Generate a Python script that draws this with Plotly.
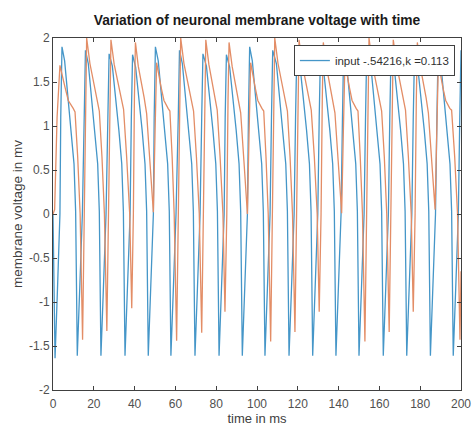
import plotly.graph_objects as go

# time (ms) and membrane voltage (mV)
blue_t = [0.0, 1.0, 2.2, 3.4, 3.8, 4.4, 5.7, 7.3, 8.9, 10.3, 11.1,
          11.9, 13.1, 14.4, 15.3, 15.9, 17.3, 18.9, 20.5, 21.9, 22.7,
          23.5, 24.7, 26.0, 26.9, 27.5, 29.1, 30.7, 32.3, 33.7, 34.5,
          35.3, 36.5, 37.8, 38.4, 39.0, 40.5, 42.1, 43.7, 45.1, 45.9,
          46.7, 47.9, 49.2, 49.6, 50.2, 51.6, 53.2, 54.8, 56.2, 57.0,
          57.8, 59.0, 60.3, 61.4, 62.0, 63.4, 65.0, 66.6, 68.0, 68.8,
          69.6, 70.8, 72.1, 72.9, 73.5, 75.2, 76.8, 78.4, 79.8, 80.6,
          81.4, 82.6, 83.9, 84.4, 85.0, 86.6, 88.2, 89.8, 91.2, 92.0,
          92.8, 94.0, 95.3, 95.8, 96.4, 97.7, 99.3, 100.9, 102.3, 103.1,
          103.9, 105.1, 106.4, 107.1, 107.7, 109.5, 111.1, 112.7, 114.1, 114.9,
          115.7, 116.9, 118.2, 118.9, 119.5, 121.1, 122.7, 124.3, 125.7, 126.5,
          127.3, 128.5, 129.8, 130.5, 131.1, 132.5, 134.1, 135.7, 137.1, 137.9,
          138.7, 139.9, 141.2, 141.9, 142.5, 143.8, 145.4, 147.0, 148.4, 149.2,
          150.0, 151.2, 152.5, 153.2, 153.8, 155.7, 157.3, 158.9, 160.3, 161.1,
          161.9, 163.1, 164.4, 165.1, 165.7, 167.2, 168.8, 170.4, 171.8, 172.6,
          173.4, 174.6, 175.9, 176.6, 177.2, 178.8, 180.4, 182.0, 183.4, 184.2,
          185.0, 186.2, 187.5, 188.2, 188.8, 190.0, 191.6, 193.2, 194.6, 195.4,
          196.2, 197.4, 198.7, 199.4, 200.0]
blue_v = [0.0, -1.64, -0.85, 0.0, 1.1, 1.90, 1.74, 1.33, 0.95, 0.57, 0.03,
          -1.61, -0.85, 0.0, 1.1, 1.86, 1.71, 1.33, 0.95, 0.57, 0.03,
          -1.61, -0.85, 0.0, 1.1, 1.82, 1.68, 1.33, 0.95, 0.57, 0.03,
          -1.61, -0.85, 0.0, 1.1, 1.81, 1.67, 1.33, 0.95, 0.57, 0.03,
          -1.61, -0.85, 0.0, 1.1, 1.90, 1.74, 1.33, 0.95, 0.57, 0.03,
          -1.61, -0.85, 0.0, 1.1, 1.86, 1.71, 1.33, 0.95, 0.57, 0.03,
          -1.61, -0.85, 0.0, 1.1, 1.82, 1.68, 1.33, 0.95, 0.57, 0.03,
          -1.61, -0.85, 0.0, 1.1, 1.81, 1.67, 1.33, 0.95, 0.57, 0.03,
          -1.61, -0.85, 0.0, 1.1, 1.90, 1.74, 1.33, 0.95, 0.57, 0.03,
          -1.61, -0.85, 0.0, 1.1, 1.86, 1.71, 1.33, 0.95, 0.57, 0.03,
          -1.61, -0.85, 0.0, 1.1, 1.82, 1.68, 1.33, 0.95, 0.57, 0.03,
          -1.61, -0.85, 0.0, 1.1, 1.81, 1.67, 1.33, 0.95, 0.57, 0.03,
          -1.61, -0.85, 0.0, 1.1, 1.90, 1.74, 1.33, 0.95, 0.57, 0.03,
          -1.61, -0.85, 0.0, 1.1, 1.86, 1.71, 1.33, 0.95, 0.57, 0.03,
          -1.61, -0.85, 0.0, 1.1, 1.82, 1.68, 1.33, 0.95, 0.57, 0.03,
          -1.61, -0.85, 0.0, 1.1, 1.81, 1.67, 1.33, 0.95, 0.57, 0.03,
          -1.61, -0.85, 0.0, 1.1, 1.90, 1.74, 1.33, 0.95, 0.57, 0.03,
          -1.61, -0.85, 0.0, 1.1, 1.86]

orange_t = [0.0, 0.8, 2.0, 3.4, 5.9, 7.5, 9.9, 10.8, 12.1, 13.3, 14.5, 15.4, 16.0,
            16.5, 18.1, 19.8, 21.4, 22.7, 24.0, 25.2, 26.4, 27.3, 27.9,
            28.4, 30.0, 31.7, 33.3, 34.6, 36.1, 37.6, 38.6, 39.4, 39.9,
            40.4, 41.8, 43.3, 44.7, 45.9, 47.5, 49.2, 50.0,
            50.8, 53.0, 54.4, 56.4, 57.3, 58.4, 59.4, 60.6, 61.5, 62.1,
            62.6, 64.2, 65.9, 67.6, 68.9, 70.3, 71.7, 72.9, 73.8, 74.4,
            74.9, 76.4, 77.9, 79.3, 80.5, 81.9, 83.3, 84.3, 85.2, 85.8,
            86.3, 87.8, 89.3, 90.8, 92.0, 93.6, 95.3, 96.1,
            96.9, 99.1, 100.4, 102.4, 103.3, 104.4, 105.5, 106.7, 107.6, 108.2,
            108.7, 110.3, 112.0, 113.6, 114.9, 116.2, 117.4, 118.6, 119.5, 120.1,
            120.6, 122.2, 123.8, 125.3, 126.6, 128.1, 129.5, 130.5, 131.4, 132.0,
            132.5, 134.0, 135.5, 137.0, 138.2, 139.8, 141.5, 142.3,
            143.1, 145.3, 146.6, 148.6, 149.5, 150.6, 151.7, 152.9, 153.8, 154.4,
            154.9, 156.5, 158.2, 159.8, 161.1, 162.4, 163.6, 164.8, 165.7, 166.3,
            166.8, 168.4, 170.0, 171.5, 172.8, 174.2, 175.6, 176.6, 177.5, 178.1,
            178.6, 180.0, 181.5, 182.9, 184.0, 185.6, 187.3, 188.1,
            188.9, 191.1, 192.5, 194.5, 195.4, 196.9, 198.3, 199.5, 200.0]
orange_v = [0.0, 0.05, 1.1, 1.69, 1.44, 1.29, 1.20, 1.16, 0.65, 0.0, -1.43, 0.0, 1.3,
            2.00, 1.71, 1.52, 1.33, 1.17, 0.65, 0.0, -1.33, 0.0, 1.3,
            1.98, 1.70, 1.51, 1.33, 1.19, 0.65, 0.0, -1.07, 0.0, 1.3,
            1.95, 1.68, 1.50, 1.32, 1.14, 0.60, 0.02, 0.90,
            1.72, 1.44, 1.29, 1.20, 1.17, 0.65, 0.0, -1.44, 0.0, 1.3,
            2.00, 1.71, 1.52, 1.33, 1.17, 0.65, 0.0, -1.35, 0.0, 1.3,
            1.98, 1.70, 1.51, 1.33, 1.18, 0.65, 0.0, -1.11, 0.0, 1.3,
            1.95, 1.68, 1.50, 1.32, 1.15, 0.60, 0.0, 0.90,
            1.72, 1.44, 1.29, 1.20, 1.17, 0.65, 0.0, -1.45, 0.0, 1.3,
            2.00, 1.71, 1.52, 1.33, 1.17, 0.65, 0.0, -1.34, 0.0, 1.3,
            1.98, 1.70, 1.51, 1.33, 1.18, 0.65, 0.0, -1.11, 0.0, 1.3,
            1.95, 1.68, 1.50, 1.32, 1.15, 0.60, 0.01, 0.90,
            1.72, 1.44, 1.29, 1.20, 1.17, 0.65, 0.0, -1.45, 0.0, 1.3,
            2.00, 1.71, 1.52, 1.33, 1.17, 0.65, 0.0, -1.34, 0.0, 1.3,
            1.98, 1.70, 1.51, 1.33, 1.18, 0.65, 0.0, -1.11, 0.0, 1.3,
            1.95, 1.68, 1.50, 1.32, 1.15, 0.60, 0.05, 0.90,
            1.72, 1.44, 1.29, 1.20, 1.18, 0.65, 0.0, -1.43, -0.65]

x_ticks = [0, 20, 40, 60, 80, 100, 120, 140, 160, 180, 200]
y_ticks = [-2, -1.5, -1, -0.5, 0, 0.5, 1, 1.5, 2]
y_tick_text = ["-2", "-1.5", "-1", "-0.5", "0", "0.5", "1", "1.5", "2"]

legend_label = "input -.54216,k =0.113"
title_text = "Variation of neuronal membrane voltage with time"

FONT = "Liberation Sans, Arial, Helvetica, sans-serif"
AX = "#404040"

W, H = 472, 430

fig = go.Figure()
fig.add_trace(go.Scatter(x=blue_t, y=blue_v, mode="lines", name=legend_label,
                         line=dict(color="#4596c8", width=1.3)))
fig.add_trace(go.Scatter(x=orange_t, y=orange_v, mode="lines", showlegend=False,
                         line=dict(color="#e38d66", width=1.3)))

axis_common = dict(showline=True, linecolor=AX, linewidth=1, mirror="ticks",
                   ticks="inside", ticklen=4, tickcolor=AX, showgrid=False,
                   zeroline=False, automargin=False,
                   tickfont=dict(family=FONT, size=12, color="#505050"))

fig.update_layout(
    width=W, height=H,
    margin=dict(l=53, r=11, t=38, b=40),
    paper_bgcolor="white", plot_bgcolor="white",
    title=dict(text="<b>" + title_text + "</b>", x=257 / W, xanchor="center",
               y=1 - 20 / H, yanchor="middle",
               font=dict(family=FONT, size=13.8, color="#1a1a1a")),
    xaxis=dict(range=[0, 200], tickvals=x_ticks, ticklabelstandoff=3,
               title=dict(text="time in ms", standoff=2,
                          font=dict(family=FONT, size=13, color="#404040")),
               **axis_common),
    yaxis=dict(range=[-2, 2], tickvals=y_ticks, ticktext=y_tick_text,
               title=dict(text="membrane voltage in mv", standoff=3,
                          font=dict(family=FONT, size=13.5, color="#404040")),
               **axis_common),
    legend=dict(x=0.985, y=0.98, xanchor="right", yanchor="top",
                bgcolor="white", bordercolor=AX, borderwidth=1,
                font=dict(family=FONT, size=11.5, color="#303030"),
                tracegroupgap=0),
    showlegend=True,
)

# remove the default 8px page margin so the 472x430 figure fills the window exactly;
# hide the modebar so it never covers the title
fig.write_html("out.html", config={"displayModeBar": False},
               post_script="document.body.style.margin='0';")
